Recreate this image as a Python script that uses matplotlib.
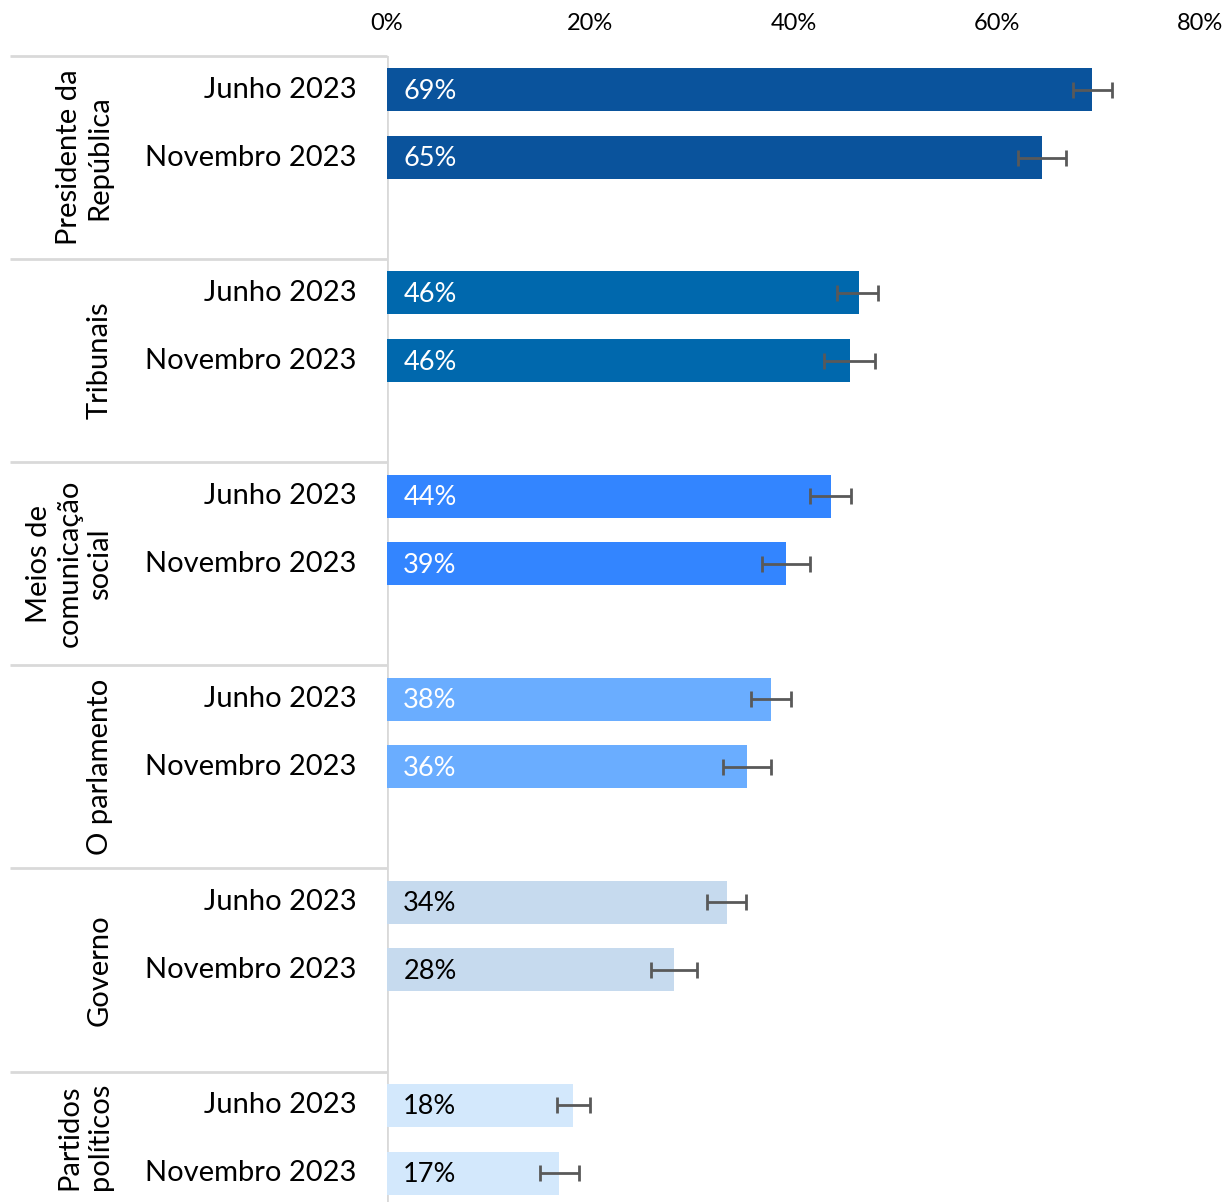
import numpy as np
from matplotlib import pyplot as plt

plt.rcParams['font.family'] = ['Lato', 'DejaVu Sans']

groups = ['Presidente da\nRepública', 'Tribunais', 'Meios de\ncomunicação\nsocial',
          'O parlamento', 'Governo', 'Partidos\npolíticos']
waves = ['Junho 2023', 'Novembro 2023']
values = [[69.4, 64.5], [46.4, 45.6], [43.7, 39.3], [37.8, 35.4], [33.5, 28.2], [18.3, 16.9]]
labels = [['69%', '65%'], ['46%', '46%'], ['44%', '39%'], ['38%', '36%'], ['34%', '28%'], ['18%', '17%']]
ci_low = [[67.5, 62.1], [44.3, 43.0], [41.6, 36.9], [35.8, 33.1], [31.5, 26.0], [16.7, 15.1]]
ci_high = [[71.3, 66.8], [48.3, 48.0], [45.7, 41.6], [39.8, 37.8], [35.3, 30.5], [20.0, 18.9]]
colors = ['#0a539c', '#0068ad', '#3385ff', '#6aadff', '#c6daee', '#d3e8fc']
text_colors = ['white', 'white', 'white', 'white', 'black', 'black']
ticks = [0, 20, 40, 60, 80]

W, H = 1226, 1202
fig = plt.figure(figsize=(W / 100, H / 100), dpi=100)
ax = fig.add_axes([387 / W, 0, (1200 - 387) / W, 1 - 56 / H])

slot = 67.7
ybot = -0.5 + (H - 56) / slot
ax.set_ylim(ybot, -0.5)
ax.set_xlim(0, 80)

for g in range(len(groups)):
    for j in range(2):
        y = g * 3 + j
        v = values[g][j]
        ax.barh(y, v, height=0.635, color=colors[g], zorder=2)
        ax.errorbar(v, y, xerr=[[v - ci_low[g][j]], [ci_high[g][j] - v]],
                    fmt='none', ecolor='#595959', elinewidth=2, capsize=6,
                    capthick=2, zorder=3)
        ax.text(1.6, y + 0.02, labels[g][j], color=text_colors[g], fontsize=19.5,
                va='center', ha='left', zorder=4)
        ax.text(-3.0, y, waves[j], fontsize=21, va='center', ha='right',
                clip_on=False)
    # separator line on the left
    ax.plot([-37.1, 0], [g * 3 - 0.5, g * 3 - 0.5], color='#d9d9d9', lw=2,
            clip_on=False, solid_capstyle='butt')
    top = g * 3 - 0.5
    bottom = min(g * 3 + 2.5, ybot)
    ax.text(-27.0, (top + bottom) / 2, groups[g], rotation=90, fontsize=21,
            ha='right', va='center', multialignment='center', clip_on=False)

ax.axvline(0, color='#d9d9d9', lw=2, zorder=1)

ax.xaxis.tick_top()
ax.set_xticks(ticks)
ax.set_xticklabels([f'{t}%' for t in ticks], fontsize=17)
ax.tick_params(axis='x', length=0, pad=15.5)
ax.set_yticks([])
for s in ax.spines.values():
    s.set_visible(False)

fig.savefig('out.png', dpi=100)
